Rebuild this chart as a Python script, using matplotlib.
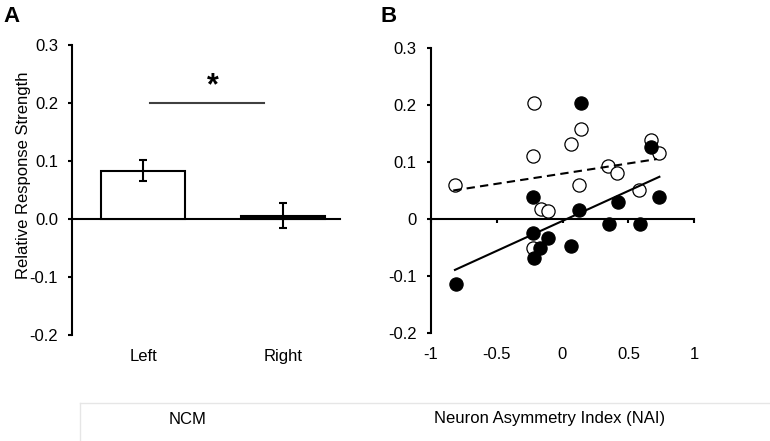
import matplotlib
matplotlib.use("Agg")
import matplotlib.pyplot as plt
from matplotlib.lines import Line2D

plt.rcParams['font.family'] = ['Liberation Sans', 'DejaVu Sans']
plt.rcParams['axes.unicode_minus'] = False

# ---- Panel A data ----
categories = ['Left', 'Right']
bar_values = [0.083, 0.006]
bar_errors = [0.018, 0.022]
bar_faces = ['white', 'black']
a_yticks = [-0.2, -0.1, 0.0, 0.1, 0.2, 0.3]
a_yticklabels = ['-0.2', '-0.1', '0.0', '0.1', '0.2', '0.3']

# ---- Panel B data ----
open_x = [-0.816, -0.216, -0.226, -0.165, -0.107, -0.221, 0.065, 0.140, 0.123,
          0.348, 0.416, 0.583, 0.669, 0.735]
open_y = [0.060, 0.204, 0.110, 0.017, 0.014, -0.050, 0.131, 0.157, 0.059,
          0.093, 0.081, 0.051, 0.138, 0.115]
filled_x = [-0.810, -0.221, -0.221, -0.214, -0.171, -0.113, 0.065, 0.140, 0.123,
            0.350, 0.419, 0.588, 0.669, 0.735]
filled_y = [-0.114, 0.039, -0.024, -0.068, -0.051, -0.034, -0.047, 0.204, 0.016,
            -0.009, 0.029, -0.009, 0.126, 0.039]
open_fit_x = [-0.829, 0.715]
open_fit_y = [0.050, 0.105]
filled_fit_x = [-0.816, 0.735]
filled_fit_y = [-0.089, 0.074]
b_xticks = [-1, -0.5, 0, 0.5, 1]
b_xticklabels = ['-1', '-0.5', '0', '0.5', '1']
b_yticks = [-0.2, -0.1, 0.0, 0.1, 0.2, 0.3]
b_yticklabels = ['-0.2', '-0.1', '0', '0.1', '0.2', '0.3']

W, H = 770, 441
fig = plt.figure(figsize=(W / 100, H / 100), dpi=100)

def fx(px):
    return px / W

def fy(py):
    return 1 - py / H

FS = 12
LW = 1.5

# ---------------- Panel A ----------------
axA = fig.add_axes([fx(72), fy(335), (340 - 72) / W, (335 - 45) / H])
xpos = list(range(len(categories)))
axA.bar(xpos, bar_values, width=0.6, color=bar_faces, edgecolor='black',
        linewidth=LW, zorder=3)
axA.errorbar(xpos, bar_values, yerr=bar_errors, fmt='none', ecolor='black',
             elinewidth=LW, capsize=2.8, capthick=LW, zorder=4)
axA.set_xlim(-0.511, 1.41)
axA.set_ylim(-0.2, 0.3)
for s in ['top', 'right']:
    axA.spines[s].set_visible(False)
axA.spines['left'].set_linewidth(LW)
axA.spines['bottom'].set_linewidth(LW)
axA.spines['bottom'].set_position(('data', 0))
axA.set_yticks(a_yticks)
axA.set_yticklabels(a_yticklabels)
axA.tick_params(axis='y', direction='out', length=3, width=LW, pad=7, labelsize=FS)
axA.set_xticks(xpos)
axA.tick_params(axis='x', length=0, labelbottom=False)
secA = axA.secondary_xaxis('bottom')
secA.set_xticks(xpos)
secA.set_xticklabels(categories)
secA.spines['bottom'].set_visible(False)
secA.tick_params(length=0, pad=10, labelsize=FS)

# significance bar
axA.plot([0.048, 0.865], [0.2005, 0.2005], color='#404040', linewidth=1.5)
axA.text(0.495, 0.215, '*', ha='center', va='baseline', fontsize=22,
         fontweight='bold')

fig.text(fx(24), fy(175), 'Relative Response Strength', rotation=90,
         ha='center', va='center', fontsize=FS)

# ---------------- Panel B ----------------
axB = fig.add_axes([fx(430.7), fy(333.3), (694.3 - 430.7) / W, (333.3 - 47.7) / H])
axB.plot(open_x, open_y, linestyle='none', marker='o', markersize=9.5,
         markerfacecolor='white', markeredgecolor='black', markeredgewidth=0.9,
         zorder=3)
axB.plot(filled_x, filled_y, linestyle='none', marker='o', markersize=9.5,
         markerfacecolor='black', markeredgecolor='black', markeredgewidth=0.9,
         zorder=4)
axB.plot(open_fit_x, open_fit_y, color='black', linewidth=LW,
         linestyle=(0, (4, 2.5)), zorder=5)
axB.plot(filled_fit_x, filled_fit_y, color='black', linewidth=LW, zorder=5)
axB.set_xlim(-1, 1)
axB.set_ylim(-0.2, 0.3)
for s in ['top', 'right']:
    axB.spines[s].set_visible(False)
axB.spines['left'].set_linewidth(LW)
axB.spines['bottom'].set_linewidth(LW)
axB.spines['bottom'].set_position(('data', 0))
axB.set_yticks(b_yticks)
axB.set_yticklabels(b_yticklabels)
axB.tick_params(axis='y', direction='out', length=3, width=LW, pad=7, labelsize=FS)
axB.set_xticks(b_xticks)
axB.tick_params(axis='x', direction='out', length=3, width=LW, labelbottom=False)
secB = axB.secondary_xaxis('bottom')
secB.set_xticks(b_xticks)
secB.set_xticklabels(b_xticklabels)
secB.spines['bottom'].set_visible(False)
secB.tick_params(length=0, pad=10, labelsize=FS)

# panel letters
fig.text(fx(3), fy(22), 'A', ha='left', va='baseline', fontsize=16, fontweight='bold')
fig.text(fx(380), fy(22), 'B', ha='left', va='baseline', fontsize=16, fontweight='bold')

# bottom caption box
fig.add_artist(Line2D([fx(80), fx(770)], [fy(403), fy(403)], transform=fig.transFigure,
                      color='#e6e6e6', linewidth=1))
fig.add_artist(Line2D([fx(80), fx(80)], [fy(403), fy(441)], transform=fig.transFigure,
                      color='#e6e6e6', linewidth=1))
fig.text(fx(187.5), fy(419), 'NCM', ha='center', va='center', fontsize=FS)
fig.text(fx(550), fy(419), 'Neuron Asymmetry Index (NAI)', ha='center', va='center',
         fontsize=FS)

fig.savefig('out.png', dpi=100)
